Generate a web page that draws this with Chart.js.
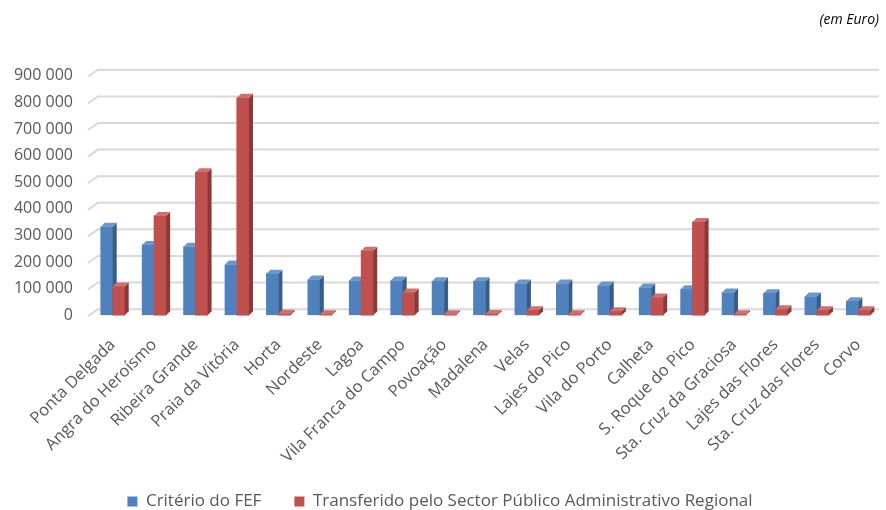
<!DOCTYPE html>
<html>
<head>
<meta charset="utf-8">
<script src="https://cdn.jsdelivr.net/npm/chart.js@4.4.1/dist/chart.umd.min.js"></script>
<style>
  body { margin: 0; background: #fff; }
</style>
</head>
<body>
<canvas id="my-chart" width="886" height="510"></canvas>
<script>
// dados do gráfico (em Euro)
const concelhos = [
    'Ponta Delgada', 'Angra do Heroísmo', 'Ribeira Grande', 'Praia da Vitória',
    'Horta', 'Nordeste', 'Lagoa', 'Vila Franca do Campo', 'Povoação', 'Madalena',
    'Velas', 'Lajes do Pico', 'Vila do Porto', 'Calheta', 'S. Roque do Pico',
    'Sta. Cruz da Graciosa', 'Lajes das Flores', 'Sta. Cruz das Flores', 'Corvo'
];

const criterioFEF = [
    332000, 264000, 257000, 190000, 156000, 134000, 130000, 130000, 127000, 127000,
    119000, 119000, 111000, 104000, 97000, 85000, 82000, 70000, 52000
];

const transferido = [
    108000, 373000, 537000, 817000, 5000, 2000, 242000, 85000, 2000, 4000,
    18000, 2000, 15000, 66000, 350000, 2000, 22000, 18000, 18000
];

const nomesSeries = ['Critério do FEF', 'Transferido pelo Sector Público Administrativo Regional'];
const yMax = 900000;
const yPasso = 100000;

const fonte = '"Open Sans", "DejaVu Sans", sans-serif';
const cinza = '#595959';

/* efeito 3D das barras: faces do azul, depois redesenho do vermelho por cima */
function faces(ctx, bar, corLado, corTopo) {
    const d = 4;
    const p = bar.getProps(['x', 'y', 'base', 'width'], true);
    const l = p.x - p.width / 2;
    const r = p.x + p.width / 2;
    const t = Math.min(p.y, p.base - 1);
    const b = p.base;
    ctx.fillStyle = corLado;
    ctx.beginPath();
    ctx.moveTo(r, t);
    ctx.lineTo(r + d, t - d);
    ctx.lineTo(r + d, b - d);
    ctx.lineTo(r, b);
    ctx.closePath();
    ctx.fill();
    ctx.fillStyle = corTopo;
    ctx.beginPath();
    ctx.moveTo(l, t);
    ctx.lineTo(l + d, t - d);
    ctx.lineTo(r + d, t - d);
    ctx.lineTo(r, t);
    ctx.closePath();
    ctx.fill();
}

const barras3D = {
    id: 'barras3D',
    afterDatasetsDraw(chart) {
        const ctx = chart.ctx;
        ctx.save();
        chart.data.datasets.forEach(function (ds, i) {
            const meta = chart.getDatasetMeta(i);
            meta.data.forEach(function (bar) {
                if (i > 0) bar.draw(ctx);
                faces(ctx, bar, ds.corLado, ds.corTopo);
            });
        });
        ctx.restore();
    }
};

/* linhas de grelha com a parede de fundo */
const grelha3D = {
    id: 'grelha3D',
    beforeDatasetsDraw(chart) {
        const y = chart.scales.y;
        const area = chart.chartArea;
        const ctx = chart.ctx;
        ctx.save();
        ctx.strokeStyle = '#d9d9d9';
        ctx.lineWidth = 2;
        y.ticks.forEach(function (tk) {
            const py = y.getPixelForValue(tk.value);
            ctx.beginPath();
            ctx.moveTo(area.left - 4, py + 1);
            ctx.lineTo(area.left + 6, py - 6);
            ctx.lineTo(area.right, py - 6);
            ctx.stroke();
        });
        ctx.restore();
    }
};

const ctx = document.getElementById('my-chart');

const data = {
    labels: concelhos,
    datasets: [{
        label: nomesSeries[0],
        data: criterioFEF,
        backgroundColor: '#4f81bd',
        corLado: '#385d8a',
        corTopo: '#6d97cc'
    }, {
        label: nomesSeries[1],
        data: transferido,
        backgroundColor: '#c0504d',
        corLado: '#8c3836',
        corTopo: '#d0706c'
    }]
};

const config = {
    type: 'bar',
    data: data,
    options: {
        responsive: false,
        animation: false,
        devicePixelRatio: 1,
        barThickness: 12,
        layout: { padding: { left: 1, right: 7, top: 0, bottom: 0 } },
        scales: {
            x: {
                grid: { display: false },
                border: { display: false },
                afterFit: function (scale) {
                    // os rótulos rodados podem usar a margem esquerda
                    scale.paddingLeft = 0;
                    scale.height -= 19;
                },
                ticks: {
                    color: cinza,
                    font: { family: fonte, size: 16.5 },
                    maxRotation: 45,
                    minRotation: 45,
                    autoSkip: false,
                    padding: 12
                }
            },
            y: {
                min: 0,
                max: yMax,
                grid: { display: false },
                border: { display: false },
                afterFit: function (scale) {
                    scale.width = 91;
                },
                ticks: {
                    stepSize: yPasso,
                    color: cinza,
                    padding: 11,
                    font: { family: fonte, size: 16 },
                    callback: function (v) {
                        return v.toString().replace(/\B(?=(\d{3})+(?!\d))/g, ' ');
                    }
                }
            }
        },
        plugins: {
            title: {
                display: true,
                text: '(em Euro)',
                align: 'end',
                color: '#000',
                font: { family: fonte, size: 14, style: 'italic', weight: 'normal' },
                padding: { top: 12, bottom: 47 }
            },
            legend: {
                position: 'bottom',
                maxHeight: 50,
                labels: {
                    boxWidth: 10,
                    boxHeight: 10,
                    padding: 33,
                    color: cinza,
                    font: { family: fonte, size: 17 }
                }
            },
            tooltip: { enabled: false }
        }
    },
    plugins: [grelha3D, barras3D]
};

const myChart = new Chart(ctx, config);
</script>
</body>
</html>
